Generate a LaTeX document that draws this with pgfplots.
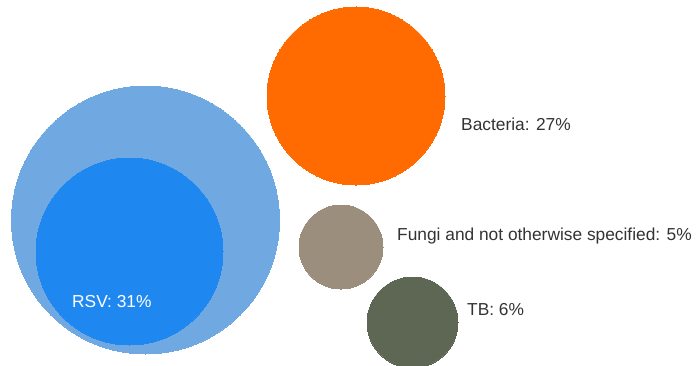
\documentclass[border=0pt]{standalone}
\usepackage{pgfplots}
\pgfplotsset{compat=1.18}
\usepackage{fontspec}
\setmainfont{Liberation Sans}

\definecolor{totalblue}{RGB}{112,169,226}
\definecolor{rsvblue}{RGB}{30,136,240}
\definecolor{bactorange}{RGB}{255,107,0}
\definecolor{fungigray}{RGB}{155,142,124}
\definecolor{tbgreen}{RGB}{94,103,83}
\definecolor{labelgray}{RGB}{51,51,51}

\tikzset{lbl/.style={font=\fontsize{17.4}{19}\selectfont, text=labelgray, anchor=base west, inner sep=0pt}}

\begin{document}
\begin{tikzpicture}
\useasboundingbox (0,0) rectangle (696bp,366bp);
\begin{axis}[
  at={(0,0)}, anchor=south west,
  width=696bp, height=366bp, scale only axis,
  xmin=0, xmax=696, ymin=0, ymax=366,
  y dir=reverse,
  hide axis,
  clip=true,
  bubble/.style={only marks, mark=*, color=#1, mark options={draw=#1, fill=#1, line width=0pt}},
]
% bubble centres (x, y) with radius in bp
\addplot[bubble=totalblue, mark size=134bp] coordinates {(145.5,220)};
\addplot[bubble=rsvblue, mark size=93.5bp] coordinates {(129.5,251.5)};
\addplot[bubble=bactorange, mark size=89bp] coordinates {(356,96)};
\addplot[bubble=fungigray, mark size=42bp] coordinates {(341,247)};
\addplot[bubble=tbgreen, mark size=45.5bp] coordinates {(412.5,322.5)};

% label anchors
\coordinate (bact) at (axis cs:461,131);
\coordinate (fungi) at (axis cs:397,241);
\coordinate (tb) at (axis cs:467,316);
\coordinate (rsv) at (axis cs:72,308);
\end{axis}
\node[lbl] at (bact) {Bacteria: 27\%};
\node[lbl] at (fungi) {Fungi and not otherwise specified: 5\%};
\node[lbl] at (tb) {TB: 6\%};
\node[lbl, text=white] at (rsv) {RSV: 31\%};
\end{tikzpicture}
\end{document}
